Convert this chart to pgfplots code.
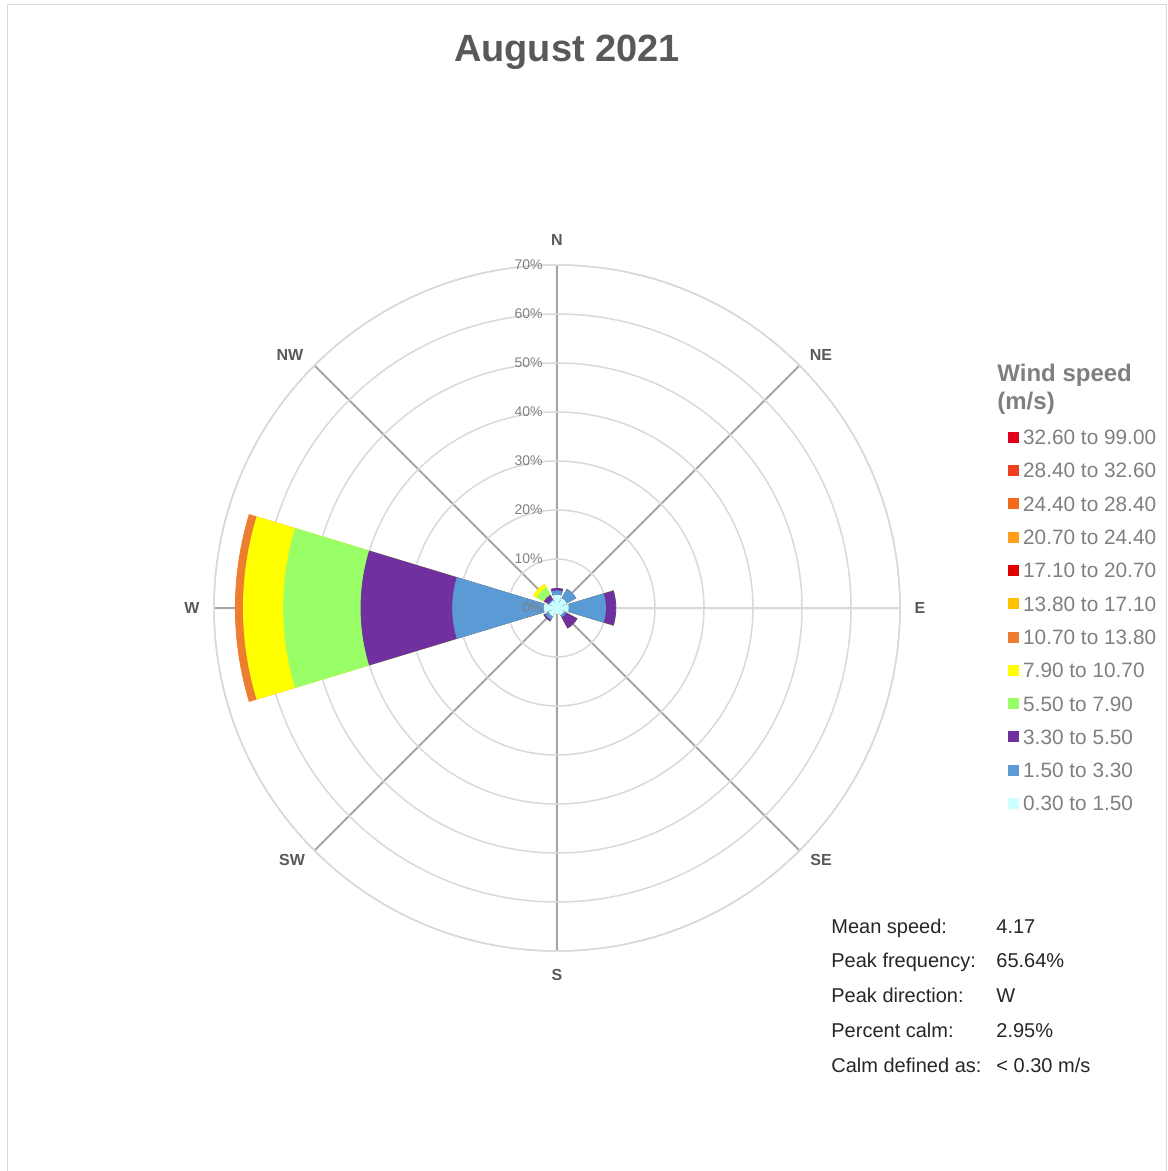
\documentclass[border=0pt]{standalone}
\usepackage{pgfplots}
\pgfplotsset{compat=1.18}
\usepackage{pgfplotstable}
\usepgfplotslibrary{polar}
\usepackage{fontspec}
\setmainfont{Liberation Sans}

\definecolor{ring}{HTML}{D9D9D9}
\definecolor{spoke}{HTML}{A6A6A6}
\definecolor{titlegray}{HTML}{595959}
\definecolor{leggray}{HTML}{7F7F7F}
\definecolor{txt}{HTML}{262626}
\definecolor{cA}{HTML}{CCFFFF}
\definecolor{cB}{HTML}{5B9BD5}
\definecolor{cC}{HTML}{7030A0}
\definecolor{cD}{HTML}{99FF66}
\definecolor{cE}{HTML}{FFFF00}
\definecolor{cF}{HTML}{ED7D31}
\definecolor{cG}{HTML}{FFC000}
\definecolor{cH}{HTML}{E00000}
\definecolor{cI}{HTML}{FF9F1A}
\definecolor{cJ}{HTML}{F26B1D}
\definecolor{cK}{HTML}{F04020}
\definecolor{cL}{HTML}{E0001B}

% cumulative outer radius (%) of each speed band, per direction (math angle: 0=E, 90=N)
\pgfplotstableread{
ang  r1   r2    r3    r4    r5    r6
0    2.3  9.9   12.0  12.0  12.0  12.0
45   2.1  4.3   4.3   4.3   4.3   4.3
90   2.6  3.5   4.0   4.0   4.0   4.0
135  1.6  1.8   2.9   4.6   5.4   5.4
180  2.6  21.3  40.0  55.8  64.0  65.64
225  1.8  2.6   3.0   3.0   3.0   3.0
270  1.2  1.2   1.2   1.2   1.2   1.2
315  1.5  2.0   4.6   4.6   4.6   4.6
}\winddata

\def\unitpt{2.45}
\pgfdeclareplotmark{nomark}{}
\pgfplotsset{
  sector/.style={
    scatter, only marks, mark=nomark, forget plot,
    visualization depends on={rawx \as \sang},
    visualization depends on={rawy \as \rout},
    scatter/@pre marker code/.code={%
      \pgfmathsetmacro\angA{\sang-16.875}%
      \pgfmathsetmacro\angB{\sang+16.875}%
      \pgfmathsetmacro\radO{\rout*\unitpt}%
      \fill[#1] (\sang:-\radO pt) -- ++(\angA:\radO pt)
        arc[start angle=\angA, end angle=\angB, radius=\radO pt] -- cycle;
    },
    scatter/@post marker code/.code={},
  },
}

\begin{document}
\begin{tikzpicture}
\useasboundingbox (-278.5pt,-281.5pt) rectangle (305pt,304pt);
\draw[ring, line width=0.5pt] (-274.5pt,-300pt) -- (-274.5pt,301.5pt) -- (304.5pt,301.5pt) -- (304.5pt,-300pt);

\begin{polaraxis}[
  at={(0pt,0pt)}, anchor=center,
  scale only axis, width=343pt, height=343pt,
  xmin=0, xmax=360, ymin=0, ymax=70,
  xtick={0,45,...,315}, ytick={10,20,...,70},
  xticklabels={}, yticklabels={},
  major tick length=0pt,
  grid=major,
  major x grid style={color=spoke, line width=1pt},
  major y grid style={color=ring, line width=0.75pt},
  axis line style={draw=ring, line width=0.75pt},
  legend cell align=left,
  legend image code/.code={\fill[#1] (0pt,-2.5pt) rectangle (5pt,2.5pt);},
  legend style={at={(axis description cs:1.1574,0.7606)}, anchor=north west,
    draw=none, fill=none, inner sep=0pt, row sep=9.15pt,
    font=\fontsize{10.4}{12}\selectfont, text=leggray,
    nodes={inner sep=0pt, text height=7.5pt, text depth=0pt},
    /tikz/every odd column/.style={column sep=2pt}},
]
% stacked bands drawn outermost first
\addplot[sector=cF] table[x=ang, y=r6] {\winddata};
\addplot[sector=cE] table[x=ang, y=r5] {\winddata};
\addplot[sector=cD] table[x=ang, y=r4] {\winddata};
\addplot[sector=cC] table[x=ang, y=r3] {\winddata};
\addplot[sector=cB] table[x=ang, y=r2] {\winddata};
\addplot[sector=cA] table[x=ang, y=r1] {\winddata};

\addlegendimage{cL}\addlegendentry{32.60 to 99.00}
\addlegendimage{cK}\addlegendentry{28.40 to 32.60}
\addlegendimage{cJ}\addlegendentry{24.40 to 28.40}
\addlegendimage{cI}\addlegendentry{20.70 to 24.40}
\addlegendimage{cH}\addlegendentry{17.10 to 20.70}
\addlegendimage{cG}\addlegendentry{13.80 to 17.10}
\addlegendimage{cF}\addlegendentry{10.70 to 13.80}
\addlegendimage{cE}\addlegendentry{7.90 to 10.70}
\addlegendimage{cD}\addlegendentry{5.50 to 7.90}
\addlegendimage{cC}\addlegendentry{3.30 to 5.50}
\addlegendimage{cB}\addlegendentry{1.50 to 3.30}
\addlegendimage{cA}\addlegendentry{0.30 to 1.50}
\end{polaraxis}

% radial labels
\foreach \r in {0,10,...,70}{
  \node[anchor=east, inner sep=0pt, text=leggray, font=\fontsize{7}{8}\selectfont] at (-7pt,\r*2.45pt) {\r\%};
}
% compass labels
\foreach \p/\t in {{(0pt,184pt)}/N,{(132pt,126.5pt)}/NE,{(181.5pt,0pt)}/E,{(132pt,-126pt)}/SE,{(0pt,-183.5pt)}/S,{(-132.5pt,-126pt)}/SW,{(-182.5pt,0pt)}/W,{(-133.5pt,126.5pt)}/NW}{
  \node[inner sep=0pt, text=titlegray, font=\fontsize{8}{9}\selectfont\bfseries] at \p {\t};
}
% title
\node[anchor=base, inner sep=0pt, text=titlegray, font=\fontsize{19}{22}\selectfont\bfseries] at (5pt,273.25pt) {August 2021};
% legend title
\node[anchor=base west, inner sep=0pt, text=leggray, font=\fontsize{12}{14}\selectfont\bfseries] at (220pt,113pt) {Wind speed};
\node[anchor=base west, inner sep=0pt, text=leggray, font=\fontsize{12}{14}\selectfont\bfseries] at (220pt,99pt) {(m/s)};
% statistics
\begin{scope}[every node/.style={anchor=base west, inner sep=0pt, text=txt, font=\fontsize{10}{12}\selectfont}]
\node at (137pt,-162.5pt) {Mean speed:};      \node at (219.5pt,-162.5pt) {4.17};
\node at (137pt,-179.9pt) {Peak frequency:};  \node at (219.5pt,-179.9pt) {65.64\%};
\node at (137pt,-197.3pt) {Peak direction:};  \node at (219.5pt,-197.3pt) {W};
\node at (137pt,-214.6pt) {Percent calm:};    \node at (219.5pt,-214.6pt) {2.95\%};
\node at (137pt,-232.0pt) {Calm defined as:}; \node at (219.5pt,-232.0pt) {< 0.30 m/s};
\end{scope}
\end{tikzpicture}
\end{document}
